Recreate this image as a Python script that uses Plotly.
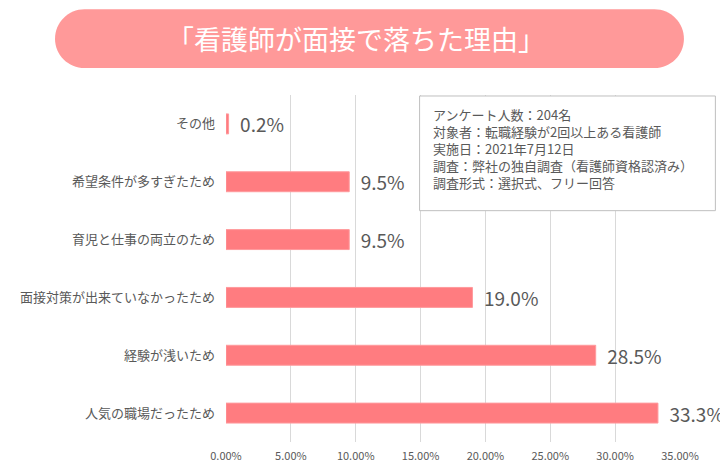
import plotly.graph_objects as go

# data
reasons = ["その他", "希望条件が多すぎたため", "育児と仕事の両立のため",
           "面接対策が出来ていなかったため", "経験が浅いため", "人気の職場だったため"]
shares = [0.002, 0.095, 0.095, 0.190, 0.285, 0.333]
tick_vals = [0, 0.05, 0.10, 0.15, 0.20, 0.25, 0.30, 0.35]

title_text = "「看護師が面接で落ちた理由」"
note_lines = ["アンケート人数：204名",
              "対象者：転職経験が2回以上ある看護師",
              "実施日：2021年7月12日",
              "調査：弊社の独自調査（看護師資格認済み）",
              "調査形式：選択式、フリー回答"]

# page body has an 8px margin, so the figure is drawn 8px in from the corner
OFF = 8
W, H = 720, 467
L, R, T, B = 210, 48, 87, 32
pw, ph = W - L - R, H - T - B

def px(x):
    return (x - OFF - L) / pw

def py(y):
    return (H - B - (y - OFF)) / ph

font = "Noto Sans CJK JP"
grey = "#595959"

fig = go.Figure()
fig.add_trace(go.Bar(
    y=reasons, x=shares, orientation="h",
    marker=dict(color="#FF7C80", line=dict(color="#FF9A9D", width=1)),
    width=0.345,
    text=["  %.1f%%" % (v * 100) for v in shares],
    textposition="outside",
    constraintext="none",
    textfont=dict(size=19, color=grey, family=font),
    cliponaxis=False,
    hoverinfo="skip",
))

# pill-shaped title background
x0, x1, y0, y1, r = 44, 684, 9, 68, 30
k = 0.55
ym = (y0 + y1) / 2
pts = (f"M{px(x0 + r)},{py(y0)} L{px(x1 - r)},{py(y0)} "
       f"C{px(x1 - r + r * k)},{py(y0)} {px(x1)},{py(ym - (ym - y0) * k)} {px(x1)},{py(ym)} "
       f"C{px(x1)},{py(ym + (y1 - ym) * k)} {px(x1 - r + r * k)},{py(y1)} {px(x1 - r)},{py(y1)} "
       f"L{px(x0 + r)},{py(y1)} "
       f"C{px(x0 + r - r * k)},{py(y1)} {px(x0)},{py(ym + (y1 - ym) * k)} {px(x0)},{py(ym)} "
       f"C{px(x0)},{py(ym - (ym - y0) * k)} {px(x0 + r - r * k)},{py(y0)} {px(x0 + r)},{py(y0)} Z")
fig.add_shape(type="path", path=pts, xref="paper", yref="paper",
              fillcolor="#FF9999", line=dict(width=0), layer="above")
fig.add_annotation(text=title_text, x=px(350), y=py(38), xref="paper", yref="paper",
                   xanchor="center", yanchor="middle",
                   showarrow=False, font=dict(size=27, color="white", family=font))

# survey note box
fig.add_shape(type="rect", xref="paper", yref="paper",
              x0=px(415), x1=px(716), y0=py(96), y1=py(211),
              fillcolor="white", line=dict(color="#BFBFBF", width=1), layer="above")
fig.add_annotation(text="<br>".join(note_lines), x=px(427), y=py(103),
                   xref="paper", yref="paper", xanchor="left", yanchor="top",
                   align="left", showarrow=False,
                   font=dict(size=13, color=grey, family=font))

fig.update_layout(
    width=W, height=H,
    margin=dict(l=L, r=R, t=T, b=B),
    paper_bgcolor="white", plot_bgcolor="white",
    showlegend=False,
    font=dict(family=font, color=grey),
    xaxis=dict(range=[0, 0.35], tickvals=tick_vals, tickformat=".2%",
               showgrid=True, gridcolor="#D9D9D9", gridwidth=1,
               zeroline=False, showline=False, ticks="",
               tickfont=dict(size=11, color=grey), ticklabelstandoff=6),
    yaxis=dict(autorange="reversed", showgrid=False, showline=False, ticks="",
               tickfont=dict(size=13, color=grey), ticklabelstandoff=10),
)

fig.write_html("out.html")
